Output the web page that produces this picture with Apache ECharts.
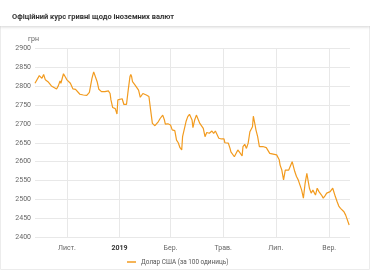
<!DOCTYPE html>
<html>
<head>
<meta charset="utf-8">
<script src="https://cdn.jsdelivr.net/npm/echarts@6/dist/echarts.min.js"></script>
<style>
html,body{margin:0;padding:0;background:#fff;}
#c{width:370px;height:270px;}
</style>
</head>
<body>
<div id="c"></div>
<script>
var dates = ['2018-09-25','2018-09-26','2018-09-30','2018-10-01','2018-10-03','2018-10-05','2018-10-07','2018-10-10','2018-10-14','2018-10-17','2018-10-20','2018-10-22','2018-10-24','2018-10-25','2018-10-28','2018-10-30','2018-11-01','2018-11-03','2018-11-05','2018-11-08','2018-11-11','2018-11-16','2018-11-20','2018-11-24','2018-11-26','2018-11-27','2018-11-30','2018-12-02','2018-12-03','2018-12-04','2018-12-06','2018-12-08','2018-12-11','2018-12-13','2018-12-15','2018-12-19','2018-12-21','2018-12-22','2018-12-24','2018-12-27','2018-12-29','2018-12-30','2019-01-01','2019-01-04','2019-01-06','2019-01-09','2019-01-11','2019-01-13','2019-01-14','2019-01-15','2019-01-16','2019-01-17','2019-01-19','2019-01-21','2019-01-23','2019-01-25','2019-01-28','2019-02-01','2019-02-04','2019-02-06','2019-02-08','2019-02-11','2019-02-13','2019-02-15','2019-02-17','2019-02-20','2019-02-22','2019-02-23','2019-02-26','2019-03-01','2019-03-03','2019-03-06','2019-03-08','2019-03-10','2019-03-12','2019-03-14','2019-03-15','2019-03-17','2019-03-19','2019-03-21','2019-03-23','2019-03-26','2019-03-27','2019-03-29','2019-03-31','2019-04-02','2019-04-04','2019-04-06','2019-04-08','2019-04-10','2019-04-12','2019-04-13','2019-04-15','2019-04-18','2019-04-20','2019-04-22','2019-04-24','2019-04-26','2019-04-29','2019-05-02','2019-05-03','2019-05-05','2019-05-07','2019-05-09','2019-05-10','2019-05-12','2019-05-14','2019-05-16','2019-05-18','2019-05-20','2019-05-21','2019-05-23','2019-05-24','2019-05-26','2019-05-28','2019-05-30','2019-06-01','2019-06-03','2019-06-04','2019-06-05','2019-06-07','2019-06-08','2019-06-10','2019-06-12','2019-06-14','2019-06-16','2019-06-18','2019-06-20','2019-06-22','2019-06-24','2019-06-26','2019-07-02','2019-07-05','2019-07-06','2019-07-08','2019-07-10','2019-07-12','2019-07-14','2019-07-16','2019-07-18','2019-07-20','2019-07-21','2019-07-23','2019-07-25','2019-07-27','2019-07-29','2019-07-31','2019-08-02','2019-08-04','2019-08-06','2019-08-08','2019-08-09','2019-08-11','2019-08-13','2019-08-15','2019-08-16','2019-08-18','2019-08-20','2019-08-23','2019-08-25','2019-08-27','2019-08-29','2019-08-31','2019-09-02','2019-09-03','2019-09-05','2019-09-07','2019-09-08','2019-09-10','2019-09-12','2019-09-14','2019-09-16','2019-09-18','2019-09-20','2019-09-22','2019-09-24'];
var usdValues = [2807,2805,2827,2829,2820,2830,2816,2811,2800,2796,2792,2800,2813,2807,2832,2824,2816,2817,2807,2792,2791,2778,2776,2775,2774,2783,2820,2837,2840,2833,2811,2791,2785,2780,2785,2787,2780,2763,2743,2740,2726,2763,2766,2766,2751,2751,2789,2824,2830,2824,2811,2813,2802,2804,2789,2770,2780,2776,2772,2736,2701,2695,2692,2706,2714,2723,2710,2699,2700,2697,2684,2682,2657,2650,2637,2631,2666,2670,2706,2719,2725,2710,2690,2710,2723,2721,2701,2701,2688,2666,2677,2679,2675,2681,2675,2681,2677,2662,2660,2660,2650,2653,2649,2635,2626,2622,2613,2612,2631,2635,2622,2615,2640,2646,2635,2649,2679,2684,2692,2720,2697,2684,2666,2640,2635,2640,2640,2637,2633,2622,2618,2618,2605,2591,2578,2552,2578,2574,2578,2578,2600,2600,2574,2561,2552,2547,2525,2504,2543,2569,2543,2530,2517,2525,2525,2512,2530,2521,2512,2504,2510,2517,2512,2521,2525,2530,2525,2508,2495,2483,2477,2473,2468,2459,2457,2433];
var tickDates = ['2018-11-01','2019-01-01','2019-03-01','2019-05-01','2019-07-01','2019-09-01'];
var tickLabels = ['Лист.','2019','Бер.','Трав.','Лип.','Вер.'];
var seriesName = 'Долар США (за 100 одиниць)';
var titleText = 'Офіційний курс гривні щодо іноземних валют';
var yName = 'грн';

function ts(s){var p=s.split('-');return Date.UTC(+p[0],+p[1]-1,+p[2]);}
var tickTs = tickDates.map(ts);
var data = dates.map(function(d,i){return [ts(d), usdValues[i]];});

var chart = echarts.init(document.getElementById('c'));
chart.setOption({
  animation:false,
  textStyle:{fontFamily:'Roboto'},
  title:{text:titleText,left:7,top:8,textStyle:{fontSize:7.5,fontWeight:'bold',color:'#333',fontFamily:'Roboto'}},
  graphic:[
    {type:'rect',shape:{x:0,y:0,width:370,height:26},style:{fill:'#fff',stroke:null,shadowBlur:3,shadowColor:'rgba(0,0,0,0.18)',shadowOffsetY:1},z:-10,silent:true},
    {type:'rect',shape:{x:0.5,y:0.5,width:369,height:269},style:{fill:'none',stroke:'#ececec',lineWidth:1},z:-20,silent:true}
  ],
  grid:{left:35,right:20,top:48,bottom:32.5},
  legend:{left:122,top:254,icon:'rect',itemWidth:9,itemHeight:1.5,itemGap:3,
    textStyle:{fontSize:6.4,color:'#555',fontFamily:'Roboto'},data:[seriesName]},
  xAxis:{type:'value',min:ts('2018-09-25'),max:ts('2019-09-25'),
    axisLine:{show:false},
    axisTick:{show:false,customValues:tickTs},
    splitLine:{show:false},
    axisLabel:{customValues:tickTs,fontSize:7,color:'#666',margin:7,
      formatter:function(v){var i=tickTs.indexOf(v);if(i<0)return '';var t=tickLabels[i];return i===1?'{b|'+t+'}':t;},
      rich:{b:{fontWeight:'bold',color:'#333',fontSize:7}}}
  },
  yAxis:{type:'value',min:2400,max:2900,interval:50,name:yName,nameGap:5,
    nameTextStyle:{fontSize:7,color:'#666',align:'right',padding:[0,-4,0,0]},
    axisLine:{show:false},axisTick:{show:false},
    axisLabel:{fontSize:7,color:'#666',margin:4,formatter:function(v){return String(v);}},
    splitLine:{lineStyle:{color:'#e8e8e8',width:1}}},
  series:[{name:seriesName,type:'line',data:data,showSymbol:false,symbol:'none',
    lineStyle:{color:'#f29b1f',width:1.2},itemStyle:{color:'#f29b1f'},
    markLine:{silent:true,symbol:'none',label:{show:false},z:1,
      lineStyle:{color:'#e8e8e8',width:1,type:'solid'},
      data:tickTs.map(function(t){return {xAxis:t};})}
  }]
});
</script>
</body>
</html>
